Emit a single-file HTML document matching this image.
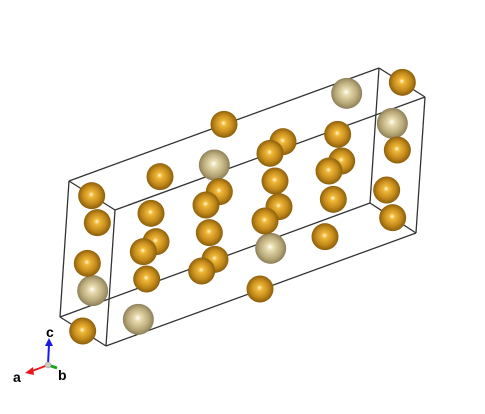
<!DOCTYPE html>
<html><head><meta charset="utf-8"><style>
html,body{margin:0;padding:0;background:#fff;width:485px;height:414px;overflow:hidden}
svg{display:block}
</style></head><body>
<svg id="scene" width="485" height="414" viewBox="0 0 485 414" xmlns="http://www.w3.org/2000/svg">
<defs>
<radialGradient id="gGold" cx="0.5" cy="0.5" r="0.55" fx="0.48" fy="0.45">
<stop offset="0" stop-color="#fffbe0"/><stop offset="0.18" stop-color="#f0b83a"/><stop offset="0.6" stop-color="#c48a1a"/><stop offset="1" stop-color="#7a5208"/>
</radialGradient>
<radialGradient id="gPale" cx="0.5" cy="0.5" r="0.55" fx="0.48" fy="0.45">
<stop offset="0" stop-color="#ffffff"/><stop offset="0.2" stop-color="#e8dcb0"/><stop offset="0.65" stop-color="#b8a878"/><stop offset="1" stop-color="#7d7050"/>
</radialGradient>
</defs>
<g id="edges" stroke="#333" stroke-width="1.3" fill="none"></g>
<g id="atoms"></g>
<g>
<line x1="48" y1="365" x2="49" y2="344" stroke="#1a1ae6" stroke-width="2"/>
<polygon points="49,338 45,346 53,346" fill="#1a1ae6"/>
<line x1="48" y1="365" x2="32" y2="371" stroke="#e61a1a" stroke-width="2"/>
<polygon points="25,373 33,367 34,375" fill="#e61a1a"/>
<line x1="48" y1="365" x2="57" y2="368" stroke="#1aa61a" stroke-width="3"/>
<circle cx="48" cy="365" r="3" fill="#ccc" stroke="#888" stroke-width="0.5"/>
<text x="46" y="337" font-family="Liberation Sans, sans-serif" font-weight="bold" font-size="14" fill="#000">c</text>
<text x="13" y="382" font-family="Liberation Sans, sans-serif" font-weight="bold" font-size="14" fill="#000">a</text>
<text x="58" y="380" font-family="Liberation Sans, sans-serif" font-weight="bold" font-size="14" fill="#000">b</text>
</g>
</svg>
<script>
const goldX=[1207,672,849,1013,1025,810,480,987,825,1192,658,618,275,1000,837,1160,453,292,1178,795,628,468,430,975,645,262,605,440,780,248];
const goldY=[97,223,275,253,333,310,380,363,393,300,425,465,437,448,470,420,490,518,503,513,548,575,605,560,628,640,663,687,717,843];
const paleX=[1040,1177,643,812,278,415];
const paleY=[130,220,345,595,722,808];
const cornerX=[69,379,425,115,106,60,416,370];
const cornerY=[181,68,97,210,346,317,233,203];
const edgeA=[0,0,1,3,3,0,4,5,5,7,2,1];
const edgeB=[1,3,2,2,4,5,6,7,4,6,6,7];
const NS='http://www.w3.org/2000/svg';
const eg=document.getElementById('edges');
for(let i=0;i<edgeA.length;i++){
  const l=document.createElementNS(NS,'line');
  l.setAttribute('x1',cornerX[edgeA[i]]);l.setAttribute('y1',cornerY[edgeA[i]]);
  l.setAttribute('x2',cornerX[edgeB[i]]);l.setAttribute('y2',cornerY[edgeB[i]]);
  
  
  eg.appendChild(l);
}
const ag=document.getElementById('atoms');
function atom(x,y,r,fill,name){
  const c=document.createElementNS(NS,'circle');
  c.setAttribute('cx',x/3);c.setAttribute('cy',y/3+50);c.setAttribute('r',r);
  c.setAttribute('fill',fill);
  
  
  ag.appendChild(c);
}
for(let i=0;i<paleX.length;i++){atom(paleX[i],paleY[i],15.5,'url(#gPale)','pale-atom');}
for(let i=0;i<goldX.length;i++){atom(goldX[i],goldY[i],13.5,'url(#gGold)','gold-atom');}
</script>
</body></html>
